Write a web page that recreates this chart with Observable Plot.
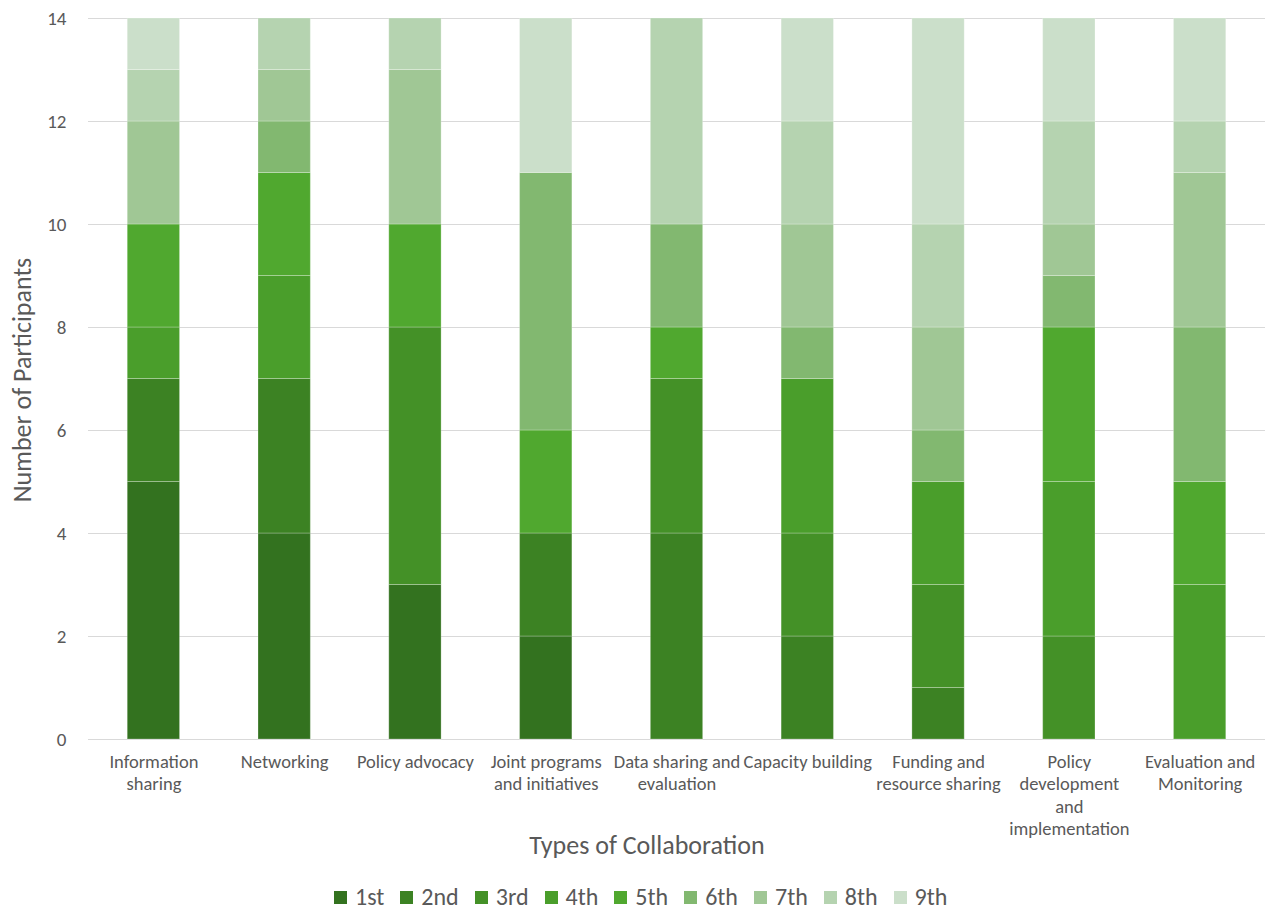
<!DOCTYPE html>
<html>
<head>
<meta charset="utf-8">
<script src="https://cdn.jsdelivr.net/npm/d3@7"></script>
<script src="https://cdn.jsdelivr.net/npm/@observablehq/plot@0.6"></script>
<style>
  html, body { margin: 0; padding: 0; background: #fff; }
  #wrap { position: relative; width: 1265px; height: 909px; font-family: Carlito, Calibri, Lato, sans-serif; color: #595959; }
  #ytitle { position: absolute; left: 22px; top: 380px; transform: translate(-50%, -50%) rotate(-90deg); font-size: 26px; white-space: nowrap; }
  #xtitle { position: absolute; left: 647px; top: 845px; transform: translate(-50%, -50%); font-size: 26px; white-space: nowrap; }
  #legend { position: absolute; left: 334px; top: 897px; transform: translateY(-50%); display: flex; font-size: 24px; line-height: 1; }
  .item { display: flex; align-items: center; margin-right: 16px; }
  .sw { width: 13px; height: 13px; margin-right: 8px; flex: none; }
</style>
</head>
<body>
<div id="wrap">
  <div id="chart"></div>
  <div id="ytitle">Number of Participants</div>
  <div id="xtitle">Types of Collaboration</div>
  <div id="legend"></div>
</div>
<script>
const categories = [
  "Information sharing", "Networking", "Policy advocacy", "Joint programs and initiatives",
  "Data sharing and evaluation", "Capacity building", "Funding and resource sharing",
  "Policy development and implementation", "Evaluation and Monitoring"
];
const categoryLabels = [
  "Information\nsharing", "Networking", "Policy advocacy", "Joint programs\nand initiatives",
  "Data sharing and\nevaluation", "Capacity building", "Funding and\nresource sharing",
  "Policy\ndevelopment\nand\nimplementation", "Evaluation and\nMonitoring"
];
const ranks = ["1st", "2nd", "3rd", "4th", "5th", "6th", "7th", "8th", "9th"];
const colors = ["#33721f", "#3c8223", "#449127", "#4a9e2b", "#50a82f", "#82b870", "#a0c795", "#b5d3b0", "#cbdfca"];

const r1st = [5, 4, 3, 2, 0, 0, 0, 0, 0];
const r2nd = [2, 3, 0, 2, 4, 2, 1, 0, 0];
const r3rd = [0, 0, 5, 0, 3, 2, 2, 2, 0];
const r4th = [1, 2, 0, 0, 0, 3, 2, 3, 3];
const r5th = [2, 2, 2, 2, 1, 0, 0, 3, 2];
const r6th = [0, 1, 0, 5, 2, 1, 1, 1, 3];
const r7th = [2, 1, 3, 0, 0, 2, 2, 1, 3];
const r8th = [1, 1, 1, 0, 4, 2, 2, 2, 1];
const r9th = [1, 0, 0, 3, 0, 2, 4, 2, 2];
const yTicks = [0, 2, 4, 6, 8, 10, 12, 14];

const series = [r1st, r2nd, r3rd, r4th, r5th, r6th, r7th, r8th, r9th];
const data = [];
categories.forEach((c, i) => {
  ranks.forEach((r, j) => data.push({category: c, rank: r, value: series[j][i]}));
});
const labelOf = new Map(categories.map((c, i) => [c, categoryLabels[i]]));

const plot = Plot.plot({
  width: 1265,
  height: 860,
  marginTop: 18,
  marginBottom: 121,
  marginLeft: 88,
  marginRight: 0,
  style: {fontFamily: "Carlito, Calibri, Lato, sans-serif", color: "#595959", background: "#fff"},
  x: {domain: categories, paddingInner: 0.6, paddingOuter: 0.3, round: false, label: null},
  y: {domain: [0, 14], label: null},
  color: {domain: ranks, range: colors},
  marks: [
    Plot.gridY(yTicks, {stroke: "#d9d9d9", strokeOpacity: 1, strokeWidth: 1}),
    Plot.barY(data, Plot.stackY({x: "category", y: "value", fill: "rank", order: ranks,
      stroke: "#ffffff", strokeOpacity: 0.25, strokeWidth: 1})),
    Plot.axisY(yTicks, {tickSize: 0, tickPadding: 22, fontSize: 19, tickFormat: d3.format("d"), label: null}),
    Plot.axisX({tickSize: 0, tickPadding: 12, fontSize: 18.5, lineHeight: 1.22,
      tickFormat: d => labelOf.get(d), label: null})
  ]
});
document.getElementById("chart").appendChild(plot);

const legend = d3.select("#legend");
ranks.forEach((r, j) => {
  const it = legend.append("div").attr("class", "item");
  it.append("div").attr("class", "sw").style("background", colors[j]);
  it.append("span").text(r);
});
</script>
</body>
</html>
